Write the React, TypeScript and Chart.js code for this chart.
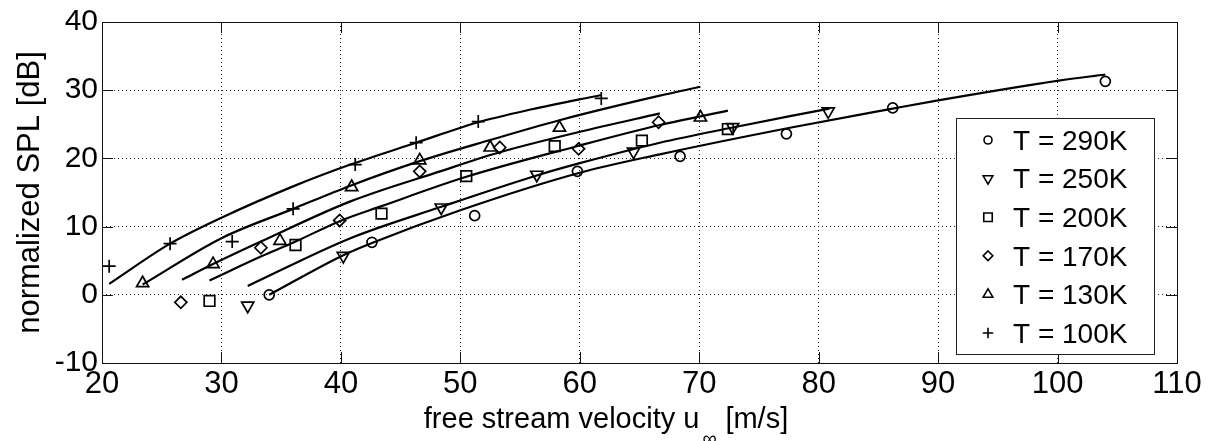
import React, { useEffect, useRef } from 'react';
import { Chart, registerables } from 'chart.js';

Chart.register(...registerables);

const FONT = "'Liberation Sans', Arial, Helvetica, sans-serif";

// ---- axis ticks ----
const xTickValues = [20, 30, 40, 50, 60, 70, 80, 90, 100, 110];
const yTickValues = [-10, 0, 10, 20, 30, 40];

// ---- series labels ----
const seriesLabels = ['T = 290K', 'T = 250K', 'T = 200K', 'T = 170K', 'T = 130K', 'T = 100K'];

// ---- measured points (markers) ----
const u290 = [34.0, 42.6, 51.2, 59.8, 68.4, 77.3, 86.2, 104.0];
const spl290 = [0.0, 7.7, 11.6, 18.1, 20.3, 23.6, 27.4, 31.3];
const u250 = [32.2, 40.2, 48.4, 56.4, 64.5, 72.8, 80.8];
const spl250 = [-1.6, 5.7, 12.8, 17.6, 21.0, 24.6, 26.9];
const u200 = [29.0, 36.2, 43.4, 50.5, 57.9, 65.2, 72.4];
const spl200 = [-0.9, 7.3, 11.9, 17.4, 21.8, 22.6, 24.3];
const u170 = [26.6, 33.3, 39.9, 46.6, 53.3, 59.9, 66.6];
const spl170 = [-1.1, 6.9, 10.9, 18.1, 21.6, 21.4, 25.3];
const u130 = [23.4, 29.3, 34.9, 40.9, 46.6, 52.5, 58.3, 70.1];
const spl130 = [1.7, 4.5, 7.9, 15.8, 19.7, 21.6, 24.5, 26.0];
const u100 = [20.6, 25.7, 30.9, 36.0, 41.2, 46.3, 51.5, 61.8];
const spl100 = [4.2, 7.5, 7.8, 12.6, 19.1, 22.3, 25.4, 28.8];

// ---- fitted curves ----
const fitU290 = [34.0, 40.2, 42.6, 50.0, 60.0, 66.7, 77.6, 86.2, 90.0, 100.1, 104.0];
const fitSpl290 = [0.0, 5.8, 7.6, 12.4, 17.9, 20.6, 24.5, 27.3, 28.5, 31.4, 32.3];
const fitU250 = [32.2, 40.8, 48.4, 56.4, 60.0, 66.7, 72.7, 77.6, 80.9];
const fitSpl250 = [1.3, 8.3, 12.9, 17.5, 19.3, 22.3, 24.5, 26.2, 27.3];
const fitU200 = [29.0, 33.3, 36.2, 39.9, 43.4, 50.5, 60.0, 66.7, 72.4];
const fitSpl200 = [2.1, 5.6, 7.8, 10.8, 13.0, 17.3, 21.9, 24.9, 27.0];
const fitU170 = [26.7, 29.3, 33.3, 40.8, 48.3, 53.3, 60.0, 66.7];
const fitSpl170 = [2.2, 4.5, 7.8, 13.7, 18.1, 20.9, 23.9, 26.6];
const fitU130 = [23.4, 30.0, 36.0, 40.8, 46.6, 52.5, 58.3, 66.7, 70.1];
const fitSpl130 = [1.5, 8.3, 12.6, 16.0, 19.6, 22.7, 25.6, 29.2, 30.5];
const fitU100 = [20.6, 25.7, 30.0, 36.0, 40.8, 46.3, 51.5, 56.0, 61.8];
const fitSpl100 = [1.6, 7.5, 11.3, 15.9, 19.1, 22.3, 25.3, 27.2, 29.3];

const zip = (xs: number[], ys: number[]) => xs.map((x, i) => ({ x, y: ys[i] }));

type MarkerStyle = { style: string; radius: number; rotation: number };
const markerStyles: MarkerStyle[] = [
  { style: 'circle', radius: 5, rotation: 0 },
  { style: 'triangle', radius: 7, rotation: 180 },
  { style: 'rect', radius: 7.5, rotation: 0 },
  { style: 'rectRot', radius: 6, rotation: 0 },
  { style: 'triangle', radius: 7, rotation: 0 },
  { style: 'cross', radius: 6.5, rotation: 0 },
];

const markerData = [
  zip(u290, spl290),
  zip(u250, spl250),
  zip(u200, spl200),
  zip(u170, spl170),
  zip(u130, spl130),
  zip(u100, spl100),
];
const fitData = [
  zip(fitU290, fitSpl290),
  zip(fitU250, fitSpl250),
  zip(fitU200, fitSpl200),
  zip(fitU170, fitSpl170),
  zip(fitU130, fitSpl130),
  zip(fitU100, fitSpl100),
];

function drawMarker(ctx: CanvasRenderingContext2D, m: MarkerStyle, x: number, y: number, scale: number) {
  const r = m.radius * scale;
  ctx.beginPath();
  if (m.style === 'circle') {
    ctx.arc(x, y, r, 0, Math.PI * 2);
  } else if (m.style === 'triangle') {
    const rot = (m.rotation * Math.PI) / 180;
    for (let k = 0; k < 3; k++) {
      const a = rot + (k * 2 * Math.PI) / 3;
      const px = x + Math.sin(a) * r;
      const py = y - Math.cos(a) * r;
      if (k === 0) ctx.moveTo(px, py);
      else ctx.lineTo(px, py);
    }
    ctx.closePath();
  } else if (m.style === 'rect') {
    const s = Math.SQRT1_2 * r;
    ctx.rect(x - s, y - s, 2 * s, 2 * s);
  } else if (m.style === 'rectRot') {
    ctx.moveTo(x, y - r);
    ctx.lineTo(x + r, y);
    ctx.lineTo(x, y + r);
    ctx.lineTo(x - r, y);
    ctx.closePath();
  } else if (m.style === 'cross') {
    ctx.moveTo(x - r, y);
    ctx.lineTo(x + r, y);
    ctx.moveTo(x, y - r);
    ctx.lineTo(x, y + r);
  }
  ctx.stroke();
}

const framePlugin = {
  id: 'frame',
  afterDatasetsDraw(chart: any) {
    const { ctx, chartArea } = chart;
    const { left, right, top, bottom } = chartArea;
    const xs = chart.scales.x;
    const ys = chart.scales.y;
    ctx.save();
    ctx.strokeStyle = '#111';
    ctx.lineWidth = 1;
    ctx.setLineDash([]);
    ctx.beginPath();
    const T = 11;
    for (const v of xTickValues) {
      const px = Math.round(xs.getPixelForValue(v)) + 0.5;
      ctx.moveTo(px, bottom);
      ctx.lineTo(px, bottom - T);
      ctx.moveTo(px, top);
      ctx.lineTo(px, top + T);
    }
    for (const v of yTickValues) {
      const py = Math.round(ys.getPixelForValue(v)) + 0.5;
      ctx.moveTo(left, py);
      ctx.lineTo(left + T, py);
      ctx.moveTo(right, py);
      ctx.lineTo(right - T, py);
    }
    ctx.stroke();
    ctx.strokeRect(Math.round(left) + 0.5, Math.round(top) + 0.5, Math.round(right - left), Math.round(bottom - top));
    ctx.restore();
  },
};

const annotatePlugin = {
  id: 'annotate',
  afterDraw(chart: any) {
    const ctx: CanvasRenderingContext2D = chart.ctx;
    ctx.save();
    // legend box
    const LX = 956, LY = 118, LW = 198, LH = 236;
    ctx.fillStyle = '#fff';
    ctx.fillRect(LX, LY, LW, LH);
    ctx.strokeStyle = '#222';
    ctx.lineWidth = 1;
    ctx.setLineDash([]);
    ctx.strokeRect(LX + 0.5, LY + 0.5, LW, LH);
    ctx.font = `28px ${FONT}`;
    ctx.fillStyle = '#000';
    ctx.textAlign = 'left';
    ctx.textBaseline = 'middle';
    seriesLabels.forEach((label, i) => {
      const ry = 140 + i * 38.6;
      ctx.strokeStyle = '#000';
      ctx.lineWidth = 1.6;
      drawMarker(ctx, markerStyles[i], 988, ry, 0.8);
      ctx.fillText(label, 1013, ry + 2);
    });

    // x axis title with subscript
    ctx.textBaseline = 'alphabetic';
    ctx.font = `29px ${FONT}`;
    const t1 = 'free stream velocity u';
    const t3 = '[m/s]';
    const w1 = ctx.measureText(t1).width;
    const w3 = ctx.measureText(t3).width;
    const gap = 26;
    const total = w1 + gap + w3;
    const x0 = 606 - total / 2;
    ctx.fillText(t1, x0, 428);
    ctx.fillText(t3, x0 + w1 + gap, 428);
    ctx.font = `20px ${FONT}`;
    ctx.fillText('\u221e', x0 + w1 + 3, 445);
    ctx.restore();
  },
};

export default function App() {
  const canvasRef = useRef<HTMLCanvasElement | null>(null);

  useEffect(() => {
    if (!canvasRef.current) return;
    Chart.defaults.font.family = FONT;
    Chart.defaults.color = '#000';

    const datasets: any[] = [];
    markerData.forEach((pts, i) => {
      const m = markerStyles[i];
      datasets.push({
        label: seriesLabels[i],
        data: pts,
        showLine: false,
        pointStyle: m.style,
        pointRadius: m.radius,
        pointRotation: m.rotation,
        pointBorderColor: '#000',
        pointBackgroundColor: 'rgba(0,0,0,0)',
        pointBorderWidth: 1.7,
        order: 0,
      });
    });
    fitData.forEach((pts, i) => {
      datasets.push({
        label: seriesLabels[i] + ' fit',
        data: pts,
        showLine: true,
        borderColor: '#000',
        borderWidth: 2.2,
        pointRadius: 0,
        cubicInterpolationMode: 'monotone',
        fill: false,
        order: 1,
      });
    });

    const chart = new Chart(canvasRef.current, {
      type: 'scatter',
      data: { datasets },
      options: {
        animation: false,
        responsive: false,
        devicePixelRatio: 1,
        layout: { padding: { top: 20, right: 36, left: 0, bottom: 0 } },
        plugins: {
          legend: { display: false },
          tooltip: { enabled: false },
        },
        scales: {
          x: {
            type: 'linear',
            min: 20,
            max: 110,
            afterBuildTicks: (s: any) => {
              s.ticks = xTickValues.map((v) => ({ value: v }));
            },
            afterFit: (s: any) => {
              s.height = 78;
            },
            grid: { color: '#222', lineWidth: 1, drawTicks: false },
            border: { display: false, dash: [1, 3] },
            ticks: {
              font: { family: FONT, size: 31 },
              color: '#000',
              padding: 3,
              maxRotation: 0,
              autoSkip: false,
            },
          },
          y: {
            type: 'linear',
            min: -10,
            max: 40,
            afterBuildTicks: (s: any) => {
              s.ticks = yTickValues.map((v) => ({ value: v }));
            },
            afterFit: (s: any) => {
              s.width = 102;
            },
            grid: { color: '#222', lineWidth: 1, drawTicks: false },
            border: { display: false, dash: [1, 3] },
            ticks: {
              font: { family: FONT, size: 30 },
              color: '#000',
              padding: 4,
              autoSkip: false,
            },
            title: {
              display: true,
              text: 'normalized SPL [dB]',
              font: { family: FONT, size: 31 },
              color: '#000',
              padding: { top: 12, bottom: 0 },
            },
          },
        },
      } as any,
      plugins: [framePlugin, annotatePlugin],
    });

    return () => {
      chart.destroy();
    };
  }, []);

  return (
    <div style={{ position: 'absolute', left: 0, top: 0, width: 1213, height: 441, background: '#fff' }}>
      <canvas ref={canvasRef} width={1213} height={441} style={{ display: 'block' }} />
    </div>
  );
}
